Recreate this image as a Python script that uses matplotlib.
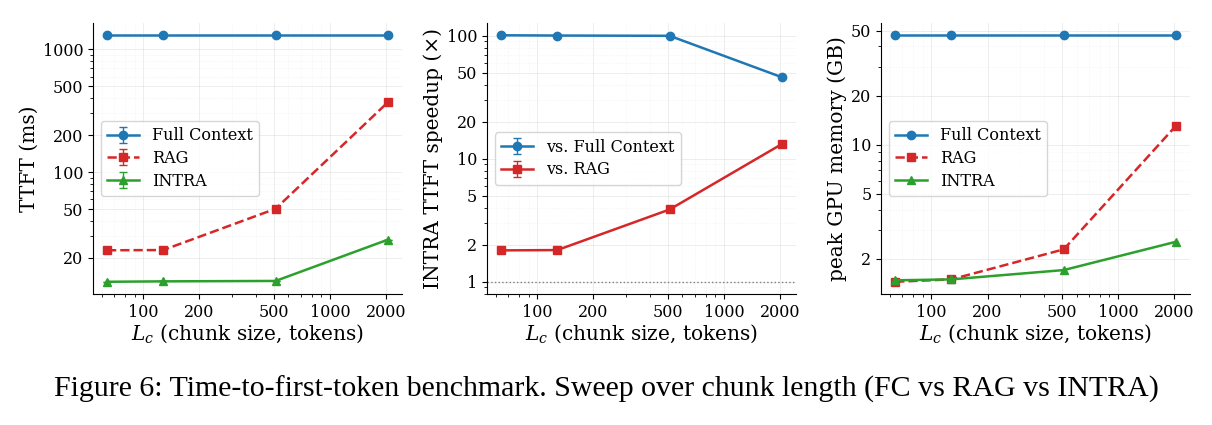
import matplotlib
matplotlib.use('Agg')
import matplotlib.pyplot as plt
from matplotlib.ticker import FixedLocator, ScalarFormatter, NullFormatter

plt.rcParams['font.family'] = 'DejaVu Serif'
plt.rcParams['mathtext.fontset'] = 'dejavuserif'

# Data
chunk_sizes = [64, 128, 512, 2048]

ttft_fc = [1300, 1300, 1300, 1300]
ttft_rag = [23.1, 23.2, 50.3, 371]
ttft_intra = [12.8, 12.9, 13.0, 28.2]

speedup_fc = [101, 100.5, 100, 46]
speedup_rag = [1.80, 1.81, 3.87, 13.2]

mem_fc = [46.8, 46.8, 46.8, 46.8]
mem_rag = [1.45, 1.50, 2.29, 13.1]
mem_intra = [1.48, 1.50, 1.71, 2.55]

BLUE = '#1f77b4'
RED = '#d62728'
GREEN = '#2ca02c'

x_ticks = [100, 200, 500, 1000, 2000]


def style_axis(ax, yticks, ylabel):
    ax.set_xscale('log')
    ax.set_yscale('log')
    ax.xaxis.set_major_locator(FixedLocator(x_ticks))
    ax.xaxis.set_major_formatter(ScalarFormatter())
    ax.xaxis.set_minor_formatter(NullFormatter())
    ax.yaxis.set_major_locator(FixedLocator(yticks))
    ax.yaxis.set_major_formatter(ScalarFormatter())
    ax.yaxis.set_minor_formatter(NullFormatter())
    ax.tick_params(labelsize=11.5)
    ax.spines['top'].set_visible(False)
    ax.spines['right'].set_visible(False)
    ax.grid(True, which='major', color='#dddddd', linewidth=0.6, alpha=0.6)
    ax.grid(True, which='minor', color='#e6e6e6', linewidth=0.5, linestyle=':', alpha=0.6)
    ax.set_axisbelow(True)
    ax.set_xlabel('$L_c$ (chunk size, tokens)', fontsize=14.5, labelpad=1)
    ax.set_ylabel(ylabel, fontsize=14.5, labelpad=3)


fig = plt.figure(figsize=(12.12, 4.25), dpi=100)
w, h, b = 0.255, 0.638, 0.308
ax1 = fig.add_axes([0.0767, b, w, h])
ax2 = fig.add_axes([0.4018, b, w, h])
ax3 = fig.add_axes([0.727, b, w, h])

eb = dict(capsize=3, elinewidth=1, lw=1.8, ms=6)

# TTFT panel
ax1.errorbar(chunk_sizes, ttft_fc, yerr=[0] * 4, fmt='-o', color=BLUE, label='Full Context', **eb)
ax1.errorbar(chunk_sizes, ttft_rag, yerr=[0] * 4, fmt='--s', color=RED, label='RAG', **eb)
ax1.errorbar(chunk_sizes, ttft_intra, yerr=[0] * 4, fmt='-^', color=GREEN, label='INTRA', **eb)
style_axis(ax1, [20, 50, 100, 200, 500, 1000], 'TTFT (ms)')
ax1.legend(loc='center left', fontsize=11.5, labelspacing=0.35)

# speedup panel
ax2.errorbar(chunk_sizes, speedup_fc, yerr=[0] * 4, fmt='-o', color=BLUE, label='vs. Full Context', **eb)
ax2.errorbar(chunk_sizes, speedup_rag, yerr=[0] * 4, fmt='-s', color=RED, label='vs. RAG', **eb)
ax2.axhline(1, color='grey', linestyle=':', linewidth=1)
style_axis(ax2, [1, 2, 5, 10, 20, 50, 100], 'INTRA TTFT speedup (×)')
ax2.legend(loc='center left', fontsize=11.5, labelspacing=0.35)

# memory panel
ax3.plot(chunk_sizes, mem_fc, '-o', color=BLUE, label='Full Context', lw=1.8, ms=6)
ax3.plot(chunk_sizes, mem_rag, '--s', color=RED, label='RAG', lw=1.8, ms=6)
ax3.plot(chunk_sizes, mem_intra, '-^', color=GREEN, label='INTRA', lw=1.8, ms=6)
style_axis(ax3, [2, 5, 10, 20, 50], 'peak GPU memory (GB)')
ax3.legend(loc='center left', fontsize=11.5, labelspacing=0.35)

fig.text(0.5, 0.083,
         'Figure 6: Time-to-first-token benchmark. Sweep over chunk length (FC vs RAG vs INTRA)',
         ha='center', va='center', fontsize=21.5, family='Liberation Serif')

fig.savefig('out.png', dpi=100)
